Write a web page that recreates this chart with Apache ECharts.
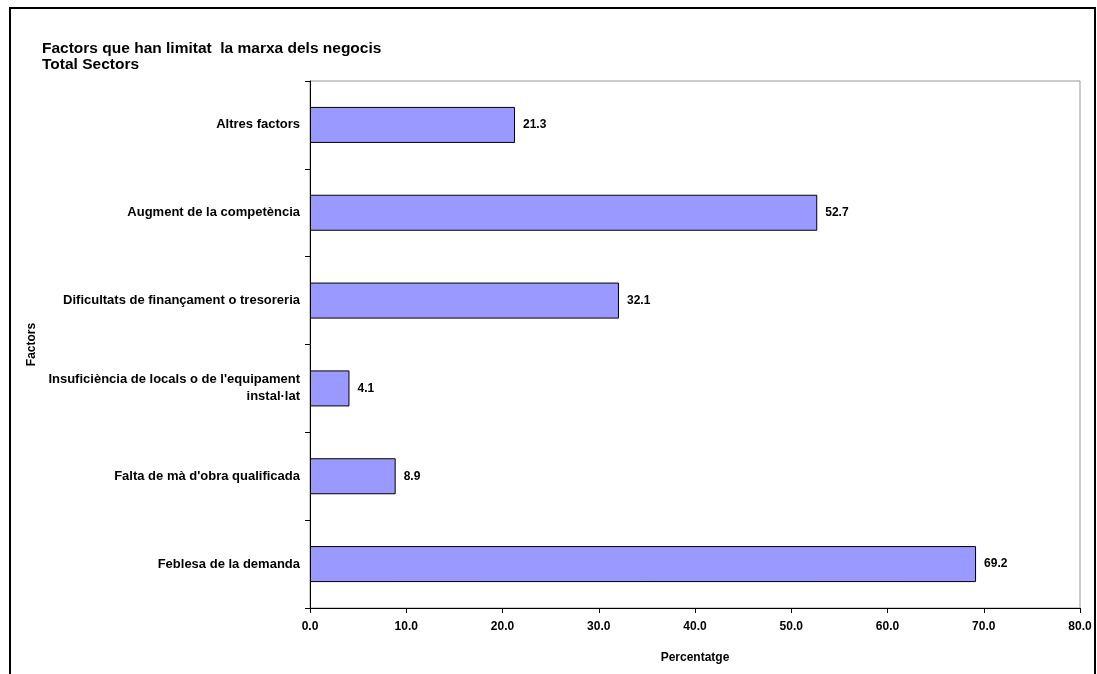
<!DOCTYPE html>
<html>
<head>
<meta charset="utf-8">
<script src="https://cdn.jsdelivr.net/npm/echarts@6/dist/echarts.min.js"></script>
<style>
  html, body { margin: 0; padding: 0; background: #fff; }
  #frame { position: absolute; left: 9px; top: 7px; width: 1083px; height: 680px; border-left: 2px solid #000; border-top: 2px solid #000; border-right: 2px solid #000; }
  #main { width: 1097px; height: 674px; }
</style>
</head>
<body>
<div id="frame"></div>
<div id="main" style="position:absolute;left:0;top:0;"></div>
<script>
// categories listed bottom to top
const categories = [
  'Feblesa de la demanda',
  "Falta de mà d'obra qualificada",
  "Insuficiència de locals o de l'equipament\ninstal·lat",
  'Dificultats de finançament o tresoreria',
  'Augment de la competència',
  'Altres factors'
];
const values = [69.2, 8.9, 4.1, 32.1, 52.7, 21.3];

const chart = echarts.init(document.getElementById('main'));
const option = {
  animation: false,
  textStyle: { fontFamily: 'Liberation Sans, Arial, sans-serif' },
  title: {
    text: 'Factors que han limitat  la marxa dels negocis\nTotal Sectors',
    left: 37, top: 36,
    textStyle: { fontSize: 15.5, fontWeight: 'bold', color: '#000', lineHeight: 16 }
  },
  grid: { left: 310, right: 17, top: 81, bottom: 66, show: true, borderColor: '#999', borderWidth: 1 },
  xAxis: {
    type: 'value', min: 0, max: 80, interval: 10,
    name: 'Percentatge', nameLocation: 'middle', nameGap: 44,
    nameTextStyle: { fontSize: 12, fontWeight: 'bold', color: '#000' },
    axisLine: { show: true, lineStyle: { color: '#000' } },
    axisTick: { show: true, length: 5, lineStyle: { color: '#000' } },
    splitLine: { show: false },
    axisLabel: { fontSize: 12, fontWeight: 'bold', color: '#000', formatter: v => v.toFixed(1), margin: 13 }
  },
  yAxis: {
    type: 'category', data: categories,
    name: 'Factors', nameLocation: 'middle', nameGap: 270, nameRotate: 90,
    nameTextStyle: { fontSize: 12, fontWeight: 'bold', color: '#000' },
    axisLine: { show: true, lineStyle: { color: '#000' } },
    axisTick: { show: true, length: 5, lineStyle: { color: '#000' } },
    axisLabel: { fontSize: 13, fontWeight: 'bold', color: '#000', margin: 10, align: 'right', lineHeight: 17 }
  },
  series: [{
    type: 'bar', data: values, barWidth: '41%',
    itemStyle: { color: '#9999ff', borderColor: '#000', borderWidth: 1 },
    label: { show: true, position: 'right', distance: 8, fontSize: 12, fontWeight: 'bold', color: '#000', formatter: p => p.value.toFixed(1) }
  }]
};
chart.setOption(option);
</script>
</body>
</html>
